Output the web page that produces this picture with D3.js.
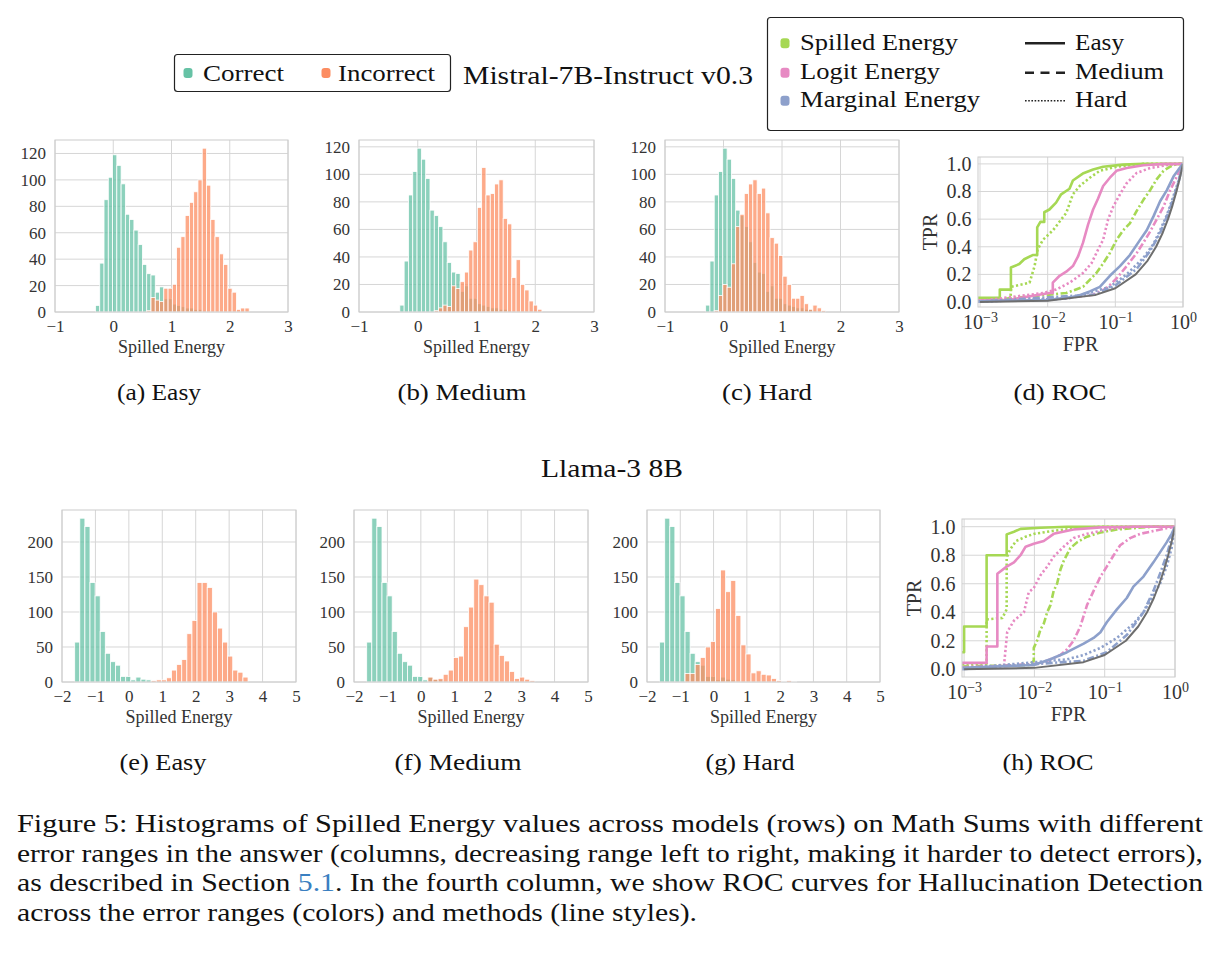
<!DOCTYPE html>
<html lang="en">
<head>
<meta charset="utf-8">
<title>Figure 5 - Spilled Energy histograms and ROC</title>
<script src="https://cdn.jsdelivr.net/npm/d3@7"></script>
<style>
  body { margin: 0; background: #fff; }
  svg, svg text { font-family: "Liberation Serif", "Times New Roman", Times, serif; }
</style>
</head>
<body>
<svg id="fig" width="1222" height="955"></svg>
<script>
// ---------- histogram data (counts per bin) ----------
// Mistral row: bins start at -0.305, width 0.0733
var mistralBinStart = -0.305, mistralBinWidth = 0.0733;
var mistralCorrect = [5, 37, 85, 102, 119, 111, 97, 74, 70, 62, 51, 36, 29, 28, 15, 19, 10, 10, 6, 5, 4, 3, 3, 2, 2, 1];
var mistralIncorrectEasy = [0, 0, 0, 0, 0, 0, 0, 0, 0, 0, 0, 0, 1, 11, 9, 8, 18, 18, 21, 49, 57, 73, 83, 91, 100, 124, 96, 70, 57, 44, 36, 18, 15, 2, 3, 3];
var mistralIncorrectMedium = [0, 0, 0, 0, 0, 0, 0, 0, 1, 3, 5, 4, 19, 17, 22, 29, 45, 51, 76, 105, 85, 86, 93, 96, 68, 64, 25, 38, 20, 16, 8, 5, 2];
var mistralIncorrectHard = [0, 0, 1, 12, 20, 18, 35, 62, 71, 86, 93, 96, 86, 90, 72, 54, 50, 41, 26, 20, 10, 10, 12, 6, 2, 5, 3, 1];

// Llama row: bins start at -1.62, width 0.1525
var llamaBinStart = -1.62, llamaBinWidth = 0.1525;
var llamaCorrect = [57, 234, 222, 142, 123, 72, 41, 29, 24, 8, 8, 3, 7, 4, 3, 1];
var llamaIncorrectEasy = [0, 0, 0, 0, 0, 0, 0, 0, 0, 0, 0, 0, 0, 0, 0, 2, 3, 3, 6, 17, 25, 32, 69, 88, 142, 142, 135, 100, 77, 57, 37, 17, 14, 7];
var llamaIncorrectMedium = [0, 0, 0, 0, 0, 0, 0, 0, 0, 0, 0, 0, 7, 4, 5, 11, 17, 35, 37, 79, 107, 147, 139, 123, 114, 54, 38, 30, 15, 5, 7, 4, 2];
var llamaIncorrectHard = [0, 0, 0, 0, 0, 12, 12, 25, 35, 50, 58, 105, 160, 129, 145, 95, 53, 40, 13, 16, 11, 10, 5, 2, 1, 2, 1];

var mistralXTicks = [-1, 0, 1, 2, 3];
var mistralYTicks = [0, 20, 40, 60, 80, 100, 120];
var llamaXTicks = [-2, -1, 0, 1, 2, 3, 4, 5];
var llamaYTicks = [0, 50, 100, 150, 200];

// ---------- ROC data [FPR, TPR] ----------
var mSpillEasy = [[0.0009,0.03],[0.00196,0.03],[0.00196,0.09],[0.00286,0.09],[0.00286,0.25],[0.0038,0.275],[0.0045,0.31],[0.006,0.34],[0.007,0.34],[0.007,0.54],[0.0078,0.58],[0.0089,0.58],[0.0089,0.65],[0.0106,0.67],[0.0133,0.72],[0.0158,0.78],[0.021,0.82],[0.0236,0.88],[0.033,0.93],[0.047,0.96],[0.066,0.98],[0.13,0.995],[0.26,1.0],[1,1]];
var mSpillMedium = [[0.0009,0.005],[0.0188,0.065],[0.0333,0.11],[0.0525,0.21],[0.066,0.28],[0.083,0.355],[0.104,0.45],[0.131,0.52],[0.164,0.57],[0.207,0.66],[0.26,0.74],[0.327,0.81],[0.41,0.89],[0.515,0.95],[0.647,0.98],[0.813,1.0],[1,1]];
var mSpillHard = [[0.0009,0.02],[0.0028,0.02],[0.0029,0.11],[0.0054,0.14],[0.0064,0.26],[0.0071,0.38],[0.0085,0.45],[0.012,0.52],[0.0188,0.645],[0.0236,0.78],[0.0297,0.84],[0.042,0.90],[0.059,0.95],[0.104,0.98],[0.26,1.0],[1,1]];
var mLogitEasy = [[0.0009,0.01],[0.0027,0.017],[0.0106,0.065],[0.0119,0.065],[0.0119,0.14],[0.015,0.19],[0.0188,0.22],[0.0236,0.26],[0.0281,0.33],[0.0333,0.43],[0.0395,0.56],[0.0469,0.67],[0.0556,0.75],[0.066,0.84],[0.083,0.9],[0.104,0.95],[0.147,0.97],[0.26,0.99],[0.52,1.0],[1,1]];
var mLogitMedium = [[0.0009,0.005],[0.02,0.03],[0.047,0.053],[0.074,0.10],[0.104,0.17],[0.147,0.26],[0.207,0.355],[0.26,0.43],[0.327,0.51],[0.41,0.6],[0.515,0.69],[0.647,0.81],[0.813,0.91],[1,1]];
var mLogitHard = [[0.0009,0.005],[0.0085,0.065],[0.0133,0.09],[0.0211,0.14],[0.0333,0.21],[0.0443,0.28],[0.0556,0.38],[0.066,0.45],[0.0783,0.6],[0.093,0.69],[0.117,0.78],[0.147,0.86],[0.207,0.935],[0.327,0.97],[0.647,0.995],[1,1]];
var mMarginalEasy = [[0.0009,0.005],[0.01,0.015],[0.0265,0.04],[0.042,0.077],[0.059,0.11],[0.083,0.19],[0.117,0.26],[0.164,0.34],[0.232,0.45],[0.291,0.52],[0.366,0.62],[0.459,0.73],[0.578,0.81],[0.726,0.91],[0.86,0.96],[1,1]];
var mMarginalMedium = [[0.0009,0.002],[0.05,0.055],[0.1,0.12],[0.207,0.24],[0.327,0.37],[0.459,0.5],[0.578,0.62],[0.726,0.75],[0.861,0.87],[1,1]];
var mMarginalHard = [[0.0009,0.003],[0.02,0.025],[0.083,0.11],[0.147,0.2],[0.26,0.32],[0.366,0.42],[0.459,0.52],[0.578,0.63],[0.726,0.77],[0.861,0.88],[1,1]];

var lSpillEasy = [[0.00093,0.12],[0.001,0.12],[0.001,0.30],[0.00209,0.30],[0.00209,0.80],[0.00403,0.80],[0.00403,0.946],[0.00512,0.965],[0.00635,0.985],[0.0122,0.993],[0.029,1.0],[1,1]];
var lSpillMedium = [[0.00093,0.02],[0.0085,0.03],[0.0098,0.06],[0.0098,0.15],[0.0109,0.2],[0.0122,0.28],[0.0136,0.32],[0.0152,0.4],[0.0169,0.45],[0.0188,0.55],[0.021,0.6],[0.0235,0.7],[0.0261,0.76],[0.0325,0.85],[0.0404,0.89],[0.056,0.93],[0.087,0.96],[0.149,0.98],[0.256,0.99],[0.493,1.0],[1,1]];
var lSpillHard = [[0.00093,0.04],[0.00209,0.04],[0.00209,0.35],[0.0035,0.36],[0.00403,0.42],[0.00403,0.78],[0.0045,0.84],[0.0055,0.9],[0.0075,0.93],[0.01,0.95],[0.018,0.97],[0.04,0.99],[0.09,1.0],[1,1]];
var lLogitEasy = [[0.00093,0.045],[0.00209,0.045],[0.00209,0.16],[0.00297,0.16],[0.00297,0.67],[0.00403,0.72],[0.00512,0.75],[0.00635,0.8],[0.0075,0.86],[0.0098,0.88],[0.0136,0.9],[0.0188,0.95],[0.036,0.98],[0.087,0.995],[0.256,1.0],[1,1]];
var lLogitMedium = [[0.00093,0.01],[0.0122,0.04],[0.0235,0.1],[0.0291,0.14],[0.036,0.2],[0.045,0.3],[0.056,0.45],[0.0695,0.55],[0.087,0.65],[0.107,0.72],[0.134,0.8],[0.166,0.87],[0.23,0.92],[0.319,0.95],[0.493,0.97],[0.76,0.99],[1,1]];
var lLogitHard = [[0.00093,0.016],[0.0029,0.02],[0.0037,0.03],[0.0041,0.26],[0.0051,0.34],[0.0071,0.40],[0.0083,0.54],[0.0098,0.57],[0.0122,0.66],[0.0152,0.72],[0.0188,0.79],[0.0261,0.86],[0.036,0.92],[0.056,0.95],[0.107,0.98],[0.256,1.0],[1,1]];
var lMarginalEasy = [[0.00093,0.01],[0.0098,0.03],[0.0169,0.07],[0.0291,0.12],[0.0502,0.18],[0.0695,0.22],[0.087,0.26],[0.107,0.33],[0.149,0.42],[0.206,0.5],[0.256,0.58],[0.356,0.65],[0.493,0.75],[0.612,0.82],[0.76,0.89],[0.895,0.95],[1,1]];
var lMarginalMedium = [[0.00093,0.001],[0.05,0.06],[0.107,0.12],[0.206,0.24],[0.356,0.4],[0.493,0.55],[0.612,0.67],[0.76,0.8],[0.895,0.92],[1,1]];
var lMarginalHard = [[0.00093,0.005],[0.0291,0.07],[0.0502,0.1],[0.087,0.15],[0.149,0.22],[0.256,0.32],[0.356,0.4],[0.493,0.52],[0.612,0.6],[0.76,0.72],[0.895,0.85],[1,1]];

// chance diagonal
var chanceLine = [[0.001,0.001],[0.01,0.01],[0.05,0.05],[0.1,0.1],[0.2,0.2],[0.3,0.3],[0.4,0.4],[0.5,0.5],[0.6,0.6],[0.7,0.7],[0.8,0.8],[0.9,0.9],[1,1]];

var rocXTicks = [0.001, 0.01, 0.1, 1];
var rocYTicks = [0, 0.2, 0.4, 0.6, 0.8, 1.0];

var methods = ["Spilled Energy", "Logit Energy", "Marginal Energy"];
var levels = ["Easy", "Medium", "Hard"];
var hueLabels = ["Correct", "Incorrect"];

// ---------- colours / styles ----------
var cCorrect = "#66c2a5", cIncorrect = "#fc8d62";
var methodColor = ["#a6d854", "#e78ac3", "#8da0cb"];
var plotDash = ["none", "7,2.5,2,2.5", "2.2,2.4"];
var gridColor = "#d6d6d6", spineColor = "#cccccc", tickColor = "#333";
var serif = "'Liberation Serif', 'Times New Roman', Times, serif";

var svg = d3.select("#fig").attr("font-family", serif);

// small helper for plain text
function label(x, y, s, size, len, anchor) {
  var t = svg.append("text")
    .attr("x", x).attr("y", y)
    .attr("font-size", size)
    .attr("font-family", serif)
    .attr("fill", "#111")
    .attr("text-anchor", anchor || "start")
    .text(s);
  if (len) t.attr("textLength", len).attr("lengthAdjust", "spacingAndGlyphs");
  return t;
}

// ---------- histogram panel ----------
function drawHist(box, xDomain, xTicks, yTicks, binStart, binWidth, correct, incorrect) {
  var w = box[2] - box[0], h = box[3] - box[1];
  var g = svg.append("g").attr("transform", "translate(" + box[0] + "," + box[1] + ")");
  var ymax = d3.max(correct.concat(incorrect)) * 1.05;
  var x = d3.scaleLinear().domain(xDomain).range([0, w]);
  var y = d3.scaleLinear().domain([0, ymax]).range([h, 0]);

  g.append("g").selectAll("line").data(xTicks).join("line")
    .attr("x1", d => x(d)).attr("x2", d => x(d)).attr("y1", 0).attr("y2", h)
    .attr("stroke", gridColor).attr("stroke-width", 1);
  g.append("g").selectAll("line").data(yTicks).join("line")
    .attr("x1", 0).attr("x2", w).attr("y1", d => y(d)).attr("y2", d => y(d))
    .attr("stroke", gridColor).attr("stroke-width", 1);

  [[correct, cCorrect], [incorrect, cIncorrect]].forEach(function (s) {
    var bins = s[0].map((c, i) => ({ x0: binStart + i * binWidth, x1: binStart + (i + 1) * binWidth, c: c }))
      .filter(b => b.c > 0);
    g.append("g").selectAll("rect").data(bins).join("rect")
      .attr("x", b => x(b.x0)).attr("width", b => x(b.x1) - x(b.x0))
      .attr("y", b => y(b.c)).attr("height", b => y(0) - y(b.c))
      .attr("fill", s[1]).attr("fill-opacity", 0.75)
      .attr("stroke", "#fff").attr("stroke-width", 0.8);
  });

  g.append("rect").attr("width", w).attr("height", h)
    .attr("fill", "none").attr("stroke", spineColor).attr("stroke-width", 1);

  var xa = g.append("g").attr("transform", "translate(0," + h + ")")
    .call(d3.axisBottom(x).tickValues(xTicks).tickSize(0).tickPadding(7.5).tickFormat(d3.format("d")));
  var ya = g.append("g")
    .call(d3.axisLeft(y).tickValues(yTicks).tickSize(0).tickPadding(9).tickFormat(d3.format("d")));
  [xa, ya].forEach(a => {
    a.attr("font-family", serif).attr("font-size", 17);
    a.select(".domain").remove();
    a.selectAll("text").attr("fill", tickColor);
  });

  g.append("text").attr("x", w / 2).attr("y", h + 41)
    .attr("text-anchor", "middle").attr("font-size", 18).attr("fill", tickColor)
    .text("Spilled Energy");
}

// ---------- ROC panel ----------
function drawRoc(box, yDomain, curves, id) {
  var w = box[2] - box[0], h = box[3] - box[1];
  var g = svg.append("g").attr("transform", "translate(" + box[0] + "," + box[1] + ")");
  var x = d3.scaleLog().domain([Math.pow(10, -3.03), 1]).range([0, w]);
  var y = d3.scaleLinear().domain(yDomain).range([h, 0]);

  g.append("clipPath").attr("id", id).append("rect").attr("width", w).attr("height", h);

  g.append("g").selectAll("line").data(rocXTicks).join("line")
    .attr("x1", d => x(d)).attr("x2", d => x(d)).attr("y1", 0).attr("y2", h)
    .attr("stroke", gridColor).attr("stroke-width", 1);
  g.append("g").selectAll("line").data(rocYTicks).join("line")
    .attr("x1", 0).attr("x2", w).attr("y1", d => y(d)).attr("y2", d => y(d))
    .attr("stroke", gridColor).attr("stroke-width", 1);

  var line = d3.line().x(d => x(d[0])).y(d => y(d[1]));
  var lines = g.append("g").attr("clip-path", "url(#" + id + ")");
  curves.forEach(function (c) {
    lines.append("path").attr("d", line(c.data))
      .attr("fill", "none").attr("stroke", c.color)
      .attr("stroke-width", c.width || 2.6)
      .attr("stroke-dasharray", c.dash)
      .attr("stroke-linejoin", "round");
  });

  g.append("rect").attr("width", w).attr("height", h)
    .attr("fill", "none").attr("stroke", spineColor).attr("stroke-width", 1);

  var xa = g.append("g").attr("transform", "translate(0," + h + ")")
    .call(d3.axisBottom(x).tickValues(rocXTicks).tickSize(0).tickPadding(8).tickFormat(() => ""));
  xa.selectAll(".tick text").each(function (d) {
    var t = d3.select(this), e = Math.round(Math.log10(d));
    t.append("tspan").text("10");
    t.append("tspan").attr("dy", "-0.5em").attr("font-size", 14).text(e === 0 ? "0" : "\u2212" + (-e));
  });
  var ya = g.append("g")
    .call(d3.axisLeft(y).tickValues(rocYTicks).tickSize(0).tickPadding(6.5).tickFormat(d3.format(".1f")));
  [xa, ya].forEach(a => {
    a.attr("font-family", serif).attr("font-size", 20);
    a.select(".domain").remove();
    a.selectAll("text").attr("fill", tickColor);
  });

  g.append("text").attr("x", w / 2).attr("y", h + 44)
    .attr("text-anchor", "middle").attr("font-size", 20).attr("fill", tickColor).text("FPR");
  g.append("text").attr("transform", "translate(" + (-41) + "," + (h / 2) + ") rotate(-90)")
    .attr("text-anchor", "middle").attr("font-size", 20).attr("fill", tickColor).text("TPR");
}

function rocSet(spill, logit, marginal) {
  var sets = [spill, logit, marginal], out = [];
  sets.forEach(function (s, mi) {
    s.forEach(function (d, li) {
      out.push({ data: d, color: methodColor[mi], dash: plotDash[li] });
    });
  });
  out.push({ data: chanceLine, color: "#6e6e6e", dash: "none", width: 2 });
  return out;
}

// ---------- Mistral row ----------
drawHist([55, 140, 288, 312], [-1, 3], mistralXTicks, mistralYTicks, mistralBinStart, mistralBinWidth, mistralCorrect, mistralIncorrectEasy);
drawHist([359, 140, 594, 312], [-1, 3], mistralXTicks, mistralYTicks, mistralBinStart, mistralBinWidth, mistralCorrect, mistralIncorrectMedium);
drawHist([665, 140, 899, 312], [-1, 3], mistralXTicks, mistralYTicks, mistralBinStart, mistralBinWidth, mistralCorrect, mistralIncorrectHard);
drawRoc([978, 157, 1183, 307], [-0.036, 1.05], rocSet(
  [mSpillEasy, mSpillMedium, mSpillHard],
  [mLogitEasy, mLogitMedium, mLogitHard],
  [mMarginalEasy, mMarginalMedium, mMarginalHard]), "clipD");

// ---------- Llama row ----------
drawHist([62, 510, 296, 682], [-2, 5], llamaXTicks, llamaYTicks, llamaBinStart, llamaBinWidth, llamaCorrect, llamaIncorrectEasy);
drawHist([354, 510, 588, 682], [-2, 5], llamaXTicks, llamaYTicks, llamaBinStart, llamaBinWidth, llamaCorrect, llamaIncorrectMedium);
drawHist([647, 510, 880, 682], [-2, 5], llamaXTicks, llamaYTicks, llamaBinStart, llamaBinWidth, llamaCorrect, llamaIncorrectHard);
drawRoc([962, 519, 1175, 677], [-0.054, 1.054], rocSet(
  [lSpillEasy, lSpillMedium, lSpillHard],
  [lLogitEasy, lLogitMedium, lLogitHard],
  [lMarginalEasy, lMarginalMedium, lMarginalHard]), "clipH");

// ---------- sub captions ----------
var subTop = [["(a) Easy", 159, 84], ["(b) Medium", 462, 129], ["(c) Hard", 767, 90], ["(d) ROC", 1060, 93]];
var subBottom = [["(e) Easy", 163, 87], ["(f) Medium", 458, 127], ["(g) Hard", 750, 89], ["(h) ROC", 1048, 91]];
subTop.forEach(s => label(s[1], 400, s[0], 23, s[2], "middle"));
subBottom.forEach(s => label(s[1], 770, s[0], 23, s[2], "middle"));

// ---------- titles ----------
label(463, 84, "Mistral-7B-Instruct v0.3", 26, 290);
label(612, 477, "Llama-3 8B", 26, 142, "middle");

// ---------- left legend (hue) ----------
svg.append("rect").attr("x", 174.5).attr("y", 54.5).attr("width", 276).attr("height", 37).attr("rx", 3)
  .attr("fill", "#fff").attr("stroke", "#222").attr("stroke-width", 1.2);
[[188, cCorrect, 203, 81], [326, cIncorrect, 338, 97]].forEach(function (m, i) {
  svg.append("rect").attr("x", m[0] - 4.5).attr("y", 68).attr("width", 9).attr("height", 10).attr("rx", 3)
    .attr("fill", m[1]);
  label(m[2], 81, hueLabels[i], 24, m[3]);
});

// ---------- right legend (methods / difficulty) ----------
svg.append("rect").attr("x", 767.5).attr("y", 17.5).attr("width", 416).attr("height", 113).attr("rx", 3)
  .attr("fill", "#fff").attr("stroke", "#222").attr("stroke-width", 1.2);
var rowY = [43.3, 72.7, 100.7];
var methodLen = [158, 140, 180];
var levelLen = [49, 89, 52];
var legendDash = ["none", "9,6.5", "1.6,1.6"];
var legendWidth = [2.5, 2.5, 1.6];
methods.forEach(function (m, i) {
  svg.append("rect").attr("x", 780.5).attr("y", rowY[i] - 5).attr("width", 9).attr("height", 10).attr("rx", 3)
    .attr("fill", methodColor[i]);
  label(800, rowY[i] + 6.5, m, 24, methodLen[i]);
});
levels.forEach(function (l, i) {
  svg.append("line").attr("x1", 1025).attr("x2", 1065).attr("y1", rowY[i]).attr("y2", rowY[i])
    .attr("stroke", "#222").attr("stroke-width", legendWidth[i]).attr("stroke-dasharray", legendDash[i]);
  label(1075, rowY[i] + 6.5, l, 24, levelLen[i]);
});

// ---------- caption ----------
var captionLines = [
  ["Figure 5: Histograms of Spilled Energy values across models (rows) on Math Sums with different"],
  ["error ranges in the answer (columns, decreasing range left to right, making it harder to detect errors),"],
  ["as described in Section ", "5.1", ". In the fourth column, we show ROC curves for Hallucination Detection"],
  ["across the error ranges (colors) and methods (line styles)."]
];
var captionLen = [1186, 1186, 1186, 680];
var captionY = [832, 861.5, 891, 920.5];
captionLines.forEach(function (parts, i) {
  var t = svg.append("text").attr("x", 17).attr("y", captionY[i]).attr("font-size", 25)
    .attr("font-family", serif).attr("fill", "#111")
    .attr("textLength", captionLen[i]).attr("lengthAdjust", "spacingAndGlyphs");
  parts.forEach(function (p, j) {
    t.append("tspan").attr("fill", (parts.length === 3 && j === 1) ? "#3a7fc1" : "#111").text(p);
  });
});
</script>
</body>
</html>
